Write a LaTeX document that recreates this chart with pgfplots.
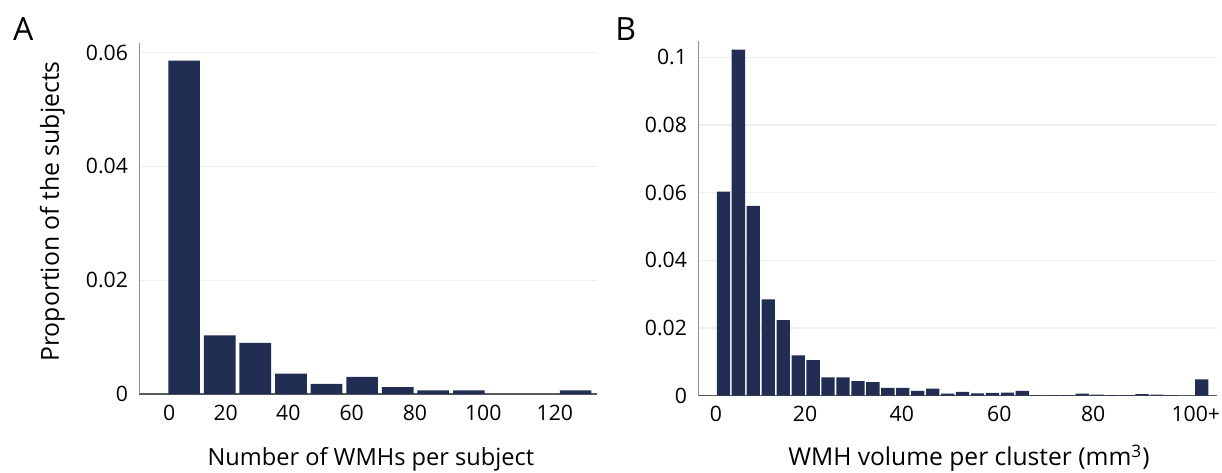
\documentclass[border=0pt]{standalone}
\usepackage{pgfplots}
\pgfplotsset{compat=1.18}
\usepackage{fontspec}
\setmainfont{Open Sans}
\definecolor{barnavy}{RGB}{33,45,82}
\definecolor{gridc}{RGB}{238,238,240}
\begin{document}
\begin{tikzpicture}
\useasboundingbox (0,0) rectangle (611pt,236pt);
\pgfplotsset{
  histstyle/.style={
    scale only axis,
    ybar,
    bar width=0.89,
    ymin=0,
    scaled y ticks=false,
    axis x line*=bottom,
    axis y line*=left,
    x axis line style={draw=black!65, line width=0.7pt},
    y axis line style={draw=black!45, line width=0.5pt},
    major tick length=0pt,
    ymajorgrids,
    grid style={draw=gridc, line width=0.6pt},
    tick label style={font=\fontsize{10.6}{13}\selectfont, text=black},
    yticklabel style={inner sep=0pt, anchor=east, xshift=-5.5pt},
    xticklabel style={inner sep=0pt, anchor=center, yshift=-9.3pt},
  }
}
% Panel A
\begin{axis}[histstyle,
  at={(69.65pt,39pt)}, anchor=south west,
  width=228.85pt, height=175.5pt,
  xmin=-0.76, xmax=12.10, ymax=0.0617,
  xtick={0.083,1.667,3.426,5.206,6.985,8.903,10.917},
  xticklabels={0,20,40,60,80,100,120},
  ytick={0,0.02,0.04,0.06},
  yticklabels={0,0.02,0.04,0.06},
  xlabel={Number of WMHs per subject},
  ylabel={Proportion of the subjects},
  every axis x label/.style={at={(axis description cs:0.506,-0.205)}, anchor=base, font=\fontsize{11.8}{14}\selectfont},
  every axis y label/.style={at={(axis description cs:-0.190,0.52)}, rotate=90, anchor=center, font=\fontsize{12.4}{15}\selectfont},
]
\addplot[fill=barnavy, draw=none] coordinates {
(0.5,0.0586) (1.5,0.0103) (2.5,0.0090) (3.5,0.0036) (4.5,0.0018)
(5.5,0.0030) (6.5,0.0012) (7.5,0.00065) (8.5,0.00065) (11.5,0.00065)
};
\end{axis}
% Panel B
\begin{axis}[histstyle,
  at={(349.15pt,38.15pt)}, anchor=south west,
  width=259.2pt, height=177.5pt,
  xmin=-1.18, xmax=33.5, ymax=0.1049,
  xtick={0.007,5.96,12.43,18.96,25.24,32.1},
  xticklabels={0,20,40,60,80,100+},
  ytick={0,0.02,0.04,0.06,0.08,0.1},
  yticklabels={0,0.02,0.04,0.06,0.08,0.1},
  xlabel={WMH volume per cluster (mm\textsuperscript{3})},
  every axis x label/.style={at={(axis description cs:0.522,-0.198)}, anchor=base, font=\fontsize{12.3}{15}\selectfont},
]
\addplot[fill=barnavy, draw=none] coordinates {
(0.5,0.0603) (1.5,0.1023) (2.5,0.0561) (3.5,0.0285) (4.5,0.0223)
(5.5,0.0119) (6.5,0.0105) (7.5,0.0054) (8.5,0.0054) (9.5,0.0043)
(10.5,0.0040) (11.5,0.0023) (12.5,0.0023) (13.5,0.0014) (14.5,0.0021)
(15.5,0.0006) (16.5,0.0011) (17.5,0.0007) (18.5,0.0008) (19.5,0.0009)
(20.5,0.0014) (21.5,0.0002) (22.5,0.0002) (23.5,0.0002) (24.5,0.0006)
(25.5,0.0003) (26.5,0.0002) (27.5,0.0002) (28.5,0.0005) (29.5,0.0003)
(30.5,0.0002) (32.5,0.0048)
};
\end{axis}
\node[anchor=base west, inner sep=0pt, font=\fontsize{16}{19}\selectfont] at (6.35pt,215.65pt) {A};
\node[anchor=base west, inner sep=0pt, font=\fontsize{16}{19}\selectfont] at (307.5pt,215.65pt) {B};
\end{tikzpicture}
\end{document}
